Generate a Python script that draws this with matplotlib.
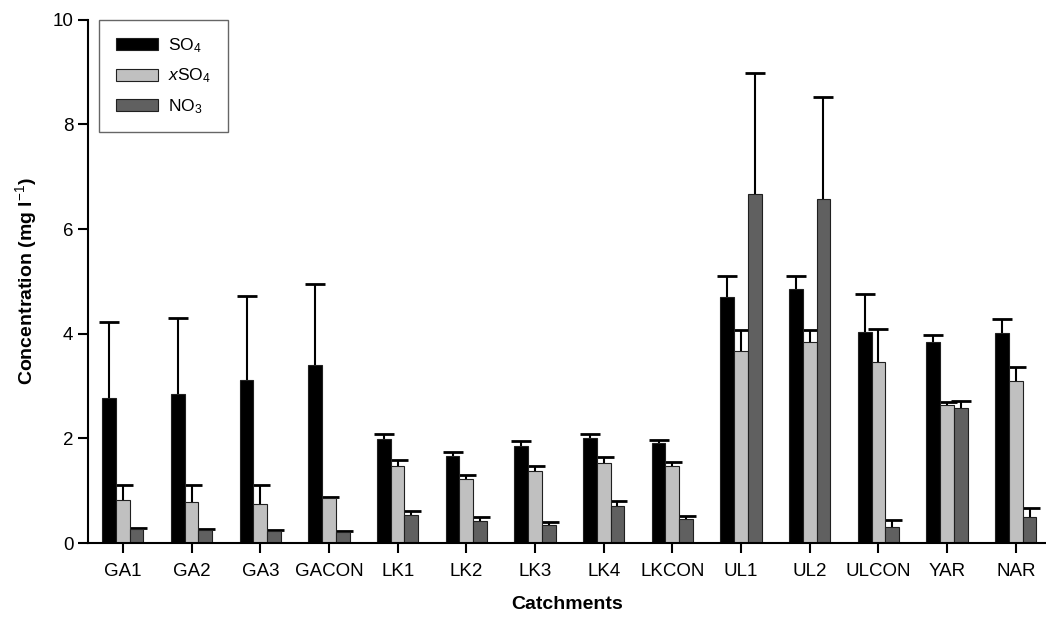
import numpy as np
import matplotlib
matplotlib.use('Agg')
import matplotlib.pyplot as plt

# ======================================================
# DATA
# ======================================================

catchments = ['GA1', 'GA2', 'GA3', 'GACON', 'LK1', 'LK2', 'LK3', 'LK4',
              'LKCON', 'UL1', 'UL2', 'ULCON', 'YAR', 'NAR']

so4 = [2.77, 2.85, 3.12, 3.40, 1.99, 1.66, 1.85, 2.00, 1.91, 4.71, 4.86, 4.04, 3.85, 4.01]
so4_err = [1.46, 1.45, 1.60, 1.55, 0.09, 0.08, 0.10, 0.09, 0.06, 0.40, 0.25, 0.72, 0.13, 0.27]

xso4 = [0.82, 0.78, 0.75, 0.86, 1.47, 1.22, 1.38, 1.53, 1.47, 3.68, 3.85, 3.47, 2.63, 3.10]
xso4_err = [0.29, 0.33, 0.36, 0.02, 0.12, 0.08, 0.09, 0.11, 0.08, 0.40, 0.22, 0.62, 0.07, 0.27]

no3 = [0.27, 0.25, 0.23, 0.22, 0.54, 0.42, 0.34, 0.71, 0.46, 6.67, 6.58, 0.31, 2.58, 0.50]
no3_err = [0.02, 0.02, 0.02, 0.02, 0.07, 0.08, 0.06, 0.09, 0.06, 2.31, 1.95, 0.13, 0.14, 0.17]

series = [
    ('SO$_4$', so4, so4_err, '#000000'),
    ('$x$SO$_4$', xso4, xso4_err, '#c0c0c0'),
    ('NO$_3$', no3, no3_err, '#606060'),
]

# ======================================================
# PLOT
# ======================================================

plt.rcParams['font.family'] = ['Liberation Sans', 'DejaVu Sans']
plt.rcParams['mathtext.fontset'] = 'custom'
plt.rcParams['mathtext.rm'] = 'Liberation Sans'
plt.rcParams['mathtext.it'] = 'Liberation Sans:italic'

fig = plt.figure(figsize=(10.46, 6.2), dpi=100)
ax = fig.add_axes([0.084, 0.124, 0.916, 0.844])

x = np.arange(len(catchments))
w = 0.2

for i, (label, vals, errs, col) in enumerate(series):
    pos = x + (i - 1) * w
    ax.bar(pos, vals, width=w, color=col, edgecolor='#202020', linewidth=0.8,
           label=label, zorder=2)
    eb = ax.errorbar(pos, vals, yerr=[np.zeros(len(vals)), errs], fmt='none',
                     ecolor='black', elinewidth=1.5, capsize=7, capthick=2, zorder=1)
    # only the upper cap, like the original
    eb[1][0].set_visible(False)

ax.set_xlim(-0.51, 13.44)
ax.set_ylim(0, 10)
ax.set_yticks([0, 2, 4, 6, 8, 10])
ax.set_xticks(x)
ax.set_xticklabels(catchments)

ax.spines['top'].set_visible(False)
ax.spines['right'].set_visible(False)
ax.spines['left'].set_linewidth(1.5)
ax.spines['bottom'].set_linewidth(1.5)
ax.tick_params(axis='both', direction='out', length=7, width=1.5, labelsize=13.5)
ax.tick_params(axis='x', pad=7)

ax.set_xlabel('Catchments', fontsize=14, fontweight='bold', labelpad=12)
ax.set_ylabel('Concentration (mg l$^{-1}$)', fontsize=14, fontweight='bold', labelpad=10)

leg = ax.legend(loc='upper left', bbox_to_anchor=(0.012, 1.0), fontsize=12.5,
                frameon=True, fancybox=False, edgecolor='#404040',
                handlelength=2.4, handleheight=0.7, borderpad=0.95,
                labelspacing=0.67, handletextpad=0.6, borderaxespad=0.0)
leg.get_frame().set_linewidth(1.0)

fig.savefig('out.png', dpi=100)
